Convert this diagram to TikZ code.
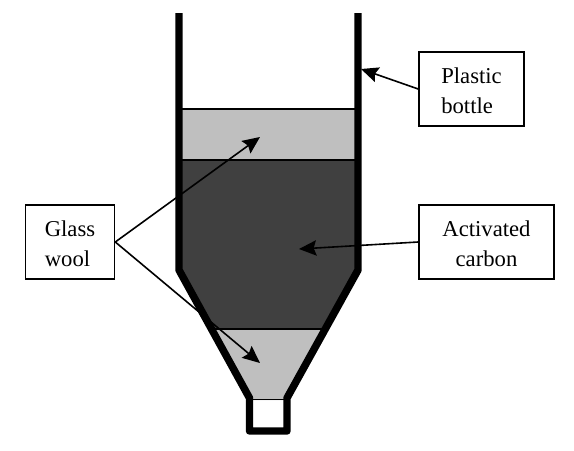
\documentclass[tikz,border=0pt]{standalone}
\usepackage{fontspec}
\setmainfont{Liberation Serif}
\usetikzlibrary{arrows.meta, positioning, calc}
\definecolor{woolgray}{RGB}{191,191,191}
\definecolor{carbongray}{RGB}{64,64,64}
\newcommand{\toppad}{\rule{0pt}{15pt}}
\tikzset{
  labelbox/.style={draw, line width=1.2pt, fill=white, align=left, font=\fontsize{17}{22.5}\selectfont, inner sep=0pt},
  pointer/.style={-{Stealth[length=13pt, width=11.5pt, inset=2pt]}, line width=1.2pt},
  layerline/.style={line width=1pt}
}

\begin{document}
\begin{tikzpicture}[x=0.75pt, y=-0.75pt]
  \useasboundingbox (0,0) rectangle (574,450);
  % Layers
  \fill[woolgray] (179,109) rectangle (358,160);
  \fill[carbongray] (179,160) -- (358,160) -- (358,270) -- (324.8,329) -- (211.5,329) -- (179,270) -- cycle;
  \fill[woolgray] (211.5,329) -- (324.8,329) -- (287,400) -- (249.5,400) -- cycle;
  \draw[layerline] (179,109) -- (358,109);
  \draw[layerline] (179,160) -- (358,160);
  \draw[layerline] (211.5,329) -- (324.8,329);
  % Bottle
  \draw[line width=5.6pt, line join=round] (179,13) -- (179,270) -- (249.5,398) -- (249.5,431) -- (287,431) -- (287,398) -- (358,270) -- (358,13);
  \draw[layerline] (249.5,399.5) -- (287,399.5);
  % Boxes
  \node[labelbox, minimum width=66.75pt, minimum height=55.5pt] (glass) at (70,242) {\toppad Glass\\wool};
  \node[labelbox, minimum width=78.75pt, minimum height=55.5pt] (plastic) at (471.5,89) {\toppad Plastic\hspace{4pt}\\bottle};
  \node[labelbox, minimum width=101.25pt, minimum height=55.5pt, align=center] (activated) at (486.5,242) {\toppad Activated\\carbon};
  % Arrow tips
  \coordinate (woolup) at (260,137);
  \coordinate (wooldown) at (260,363);
  \coordinate (wall) at (361,69);
  \coordinate (carbon) at (299,249);
  \draw[pointer] (glass.east) -- (woolup);
  \draw[pointer] (glass.east) -- (wooldown);
  \draw[pointer] (plastic.west) -- (wall);
  \draw[pointer] (activated.west) -- (carbon);
\end{tikzpicture}
\end{document}
